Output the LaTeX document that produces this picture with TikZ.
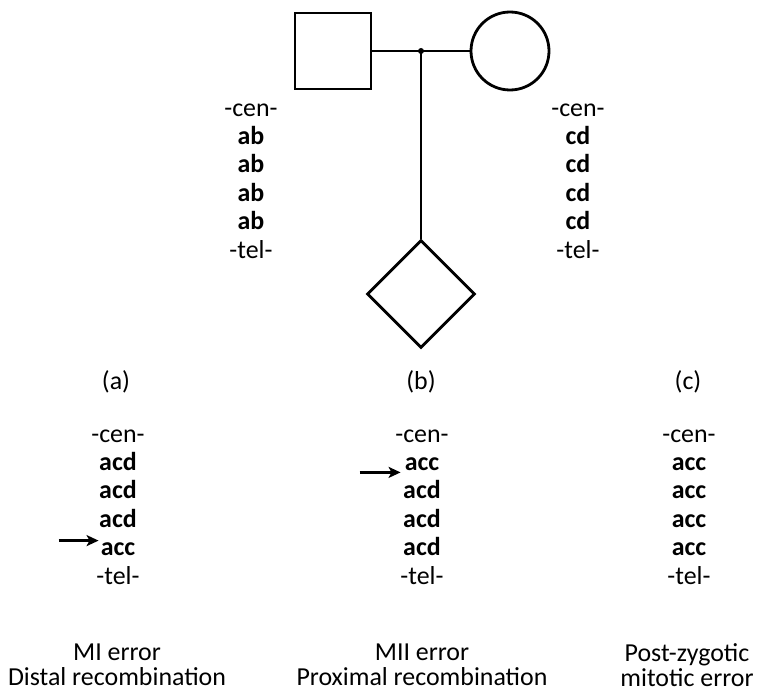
\documentclass[tikz,border=0pt]{standalone}
\usepackage{fontspec}
\setmainfont{Carlito}
\usetikzlibrary{matrix, calc, shapes.geometric, arrows.meta}
\tikzset{%
    haplotype/.style={%
        matrix of nodes,
        row sep=6.4bp,
        nodes={inner sep=0pt, text height=17bp, text depth=5bp}
    },%
    pedline/.style={draw, line width=2.8bp, inner sep=0pt},%
    pointer/.style={-{Stealth[length=12bp, width=11bp, inset=3bp]}, line width=2.6bp},%
    cause/.style={align=center, font=\fontsize{26}{25}\selectfont}%
}

\begin{document}
\begin{tikzpicture}[x=1bp, y=-1bp, font=\fontsize{26}{23}\selectfont]
\useasboundingbox (0,0) rectangle (778,693);

% parents and child
\node[pedline, minimum size=76bp] (father) at (333,51) {};
\node[pedline, circle, minimum size=78bp] (mother) at (510,51) {};
\node[pedline, diamond, minimum size=108bp] (child) at (421,294) {};
\coordinate (mating) at (father.east -| child.north);
\draw[line width=2.8bp] (father.east) -- (mother.west);
\draw[line width=2.8bp] (mating) -- (child.north);
\fill (mating) circle (3bp);

% parental haplotypes
\matrix[haplotype] (F) at (251,181) {
-cen- \\ \textbf{ab} \\ \textbf{ab} \\ \textbf{ab} \\ \textbf{ab} \\ -tel- \\
};
\matrix[haplotype] (M) at (578,181) {
-cen- \\ \textbf{cd} \\ \textbf{cd} \\ \textbf{cd} \\ \textbf{cd} \\ -tel- \\
};

% offspring haplotypes
\node (labA) at (116,382) {(a)};
\node (labB) at (421,382) {(b)};
\node (labC) at (688,382) {(c)};
\matrix[haplotype] (A) at (118,507) {
-cen- \\ \textbf{acd} \\ \textbf{acd} \\ \textbf{acd} \\ \textbf{acc} \\ -tel- \\
};
\matrix[haplotype] (B) at (422,507) {
-cen- \\ \textbf{acc} \\ \textbf{acd} \\ \textbf{acd} \\ \textbf{acd} \\ -tel- \\
};
\matrix[haplotype] (C) at (689,507) {
-cen- \\ \textbf{acc} \\ \textbf{acc} \\ \textbf{acc} \\ \textbf{acc} \\ -tel- \\
};
\draw[pointer] ($(A-5-1.west)+(-42,-9)$) coordinate (tailA) -- ($(tailA -| A-5-1.west)+(-2,0)$);
\draw[pointer] ($(B-2-1.west)+(-45,8)$) coordinate (tailB) -- ($(tailB -| B-2-1.west)+(-4,0)$);

% origin of the error
\node[cause] (causeA) at (117,665) {MI error\\Distal recombination};
\node[cause] (causeB) at (422,665) {MII error\\Proximal recombination};
\node[cause] (causeC) at (687,665) {Post-zygotic\\mitotic error};
\end{tikzpicture}
\end{document}
